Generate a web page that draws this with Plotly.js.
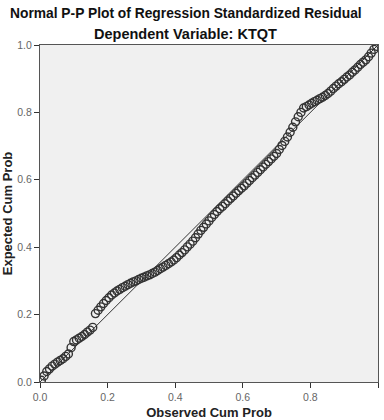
<!DOCTYPE html>
<html>
<head>
<meta charset="utf-8">
<script src="https://cdn.plot.ly/plotly-3.0.1.min.js"></script>
<style>html,body{margin:0;padding:0;background:#fff;}#chart{width:384px;height:420px;}</style>
</head>
<body>
<div id="chart"></div>
<script>
// Observed cumulative probability (x) and expected cumulative probability (y)
var observedCumProb = [0.004,0.012,0.020,0.028,0.036,0.044,0.052,0.060,0.068,0.076,
0.084,0.092,0.100,0.108,0.116,0.124,0.132,0.140,0.148,0.156,
0.164,0.172,0.180,0.188,0.196,0.204,0.212,0.220,0.228,0.236,
0.244,0.252,0.260,0.268,0.276,0.284,0.292,0.300,0.308,0.316,
0.324,0.332,0.340,0.348,0.356,0.364,0.372,0.380,0.388,0.396,
0.404,0.412,0.420,0.428,0.436,0.444,0.452,0.460,0.468,0.476,
0.484,0.492,0.500,0.508,0.516,0.524,0.532,0.540,0.548,0.556,
0.564,0.572,0.580,0.588,0.596,0.604,0.612,0.620,0.628,0.636,
0.644,0.652,0.660,0.668,0.676,0.684,0.692,0.700,0.708,0.716,
0.724,0.732,0.740,0.748,0.756,0.764,0.772,0.780,0.788,0.796,
0.804,0.812,0.820,0.828,0.836,0.844,0.852,0.860,0.868,0.876,
0.884,0.892,0.900,0.908,0.916,0.924,0.932,0.940,0.948,0.956,
0.964,0.972,0.980,0.988,0.996];
var expectedCumProb = [0.005,0.018,0.031,0.039,0.047,0.053,0.059,0.064,0.069,0.076,
0.083,0.102,0.120,0.125,0.130,0.135,0.141,0.148,0.154,0.162,
0.203,0.213,0.223,0.233,0.242,0.250,0.258,0.264,0.270,0.275,
0.280,0.284,0.289,0.293,0.297,0.300,0.304,0.308,0.311,0.315,
0.318,0.322,0.326,0.331,0.336,0.341,0.346,0.351,0.356,0.362,
0.369,0.377,0.384,0.392,0.401,0.409,0.418,0.428,0.439,0.450,
0.459,0.469,0.478,0.488,0.497,0.506,0.514,0.521,0.529,0.537,
0.545,0.552,0.560,0.568,0.575,0.582,0.590,0.598,0.606,0.614,
0.622,0.630,0.638,0.646,0.654,0.662,0.670,0.678,0.690,0.702,
0.714,0.727,0.741,0.756,0.772,0.787,0.800,0.813,0.817,0.822,
0.827,0.832,0.836,0.841,0.845,0.850,0.856,0.863,0.871,0.878,
0.885,0.891,0.898,0.905,0.911,0.919,0.926,0.934,0.942,0.949,
0.956,0.965,0.976,0.987,0.996];
var refLineX = [0, 1];
var refLineY = [0, 1];
var tickValues = [0, 0.2, 0.4, 0.6, 0.8, 1.0];
var tickLabels = ["0.0", "0.2", "0.4", "0.6", "0.8", "1.0"];

var FONT = "Liberation Sans, Arial, sans-serif";

var traces = [
  {
    x: refLineX, y: refLineY, type: "scatter", mode: "lines",
    line: {color: "#333333", width: 1}, hoverinfo: "skip", showlegend: false
  },
  {
    x: observedCumProb, y: expectedCumProb, type: "scatter", mode: "markers",
    marker: {symbol: "circle-open", size: 8, color: "#333333", line: {width: 1.4, color: "#333333"}},
    showlegend: false
  }
];

var axisCommon = {
  range: [0, 1], tickmode: "array", tickvals: tickValues, ticktext: tickLabels,
  showgrid: false, zeroline: false, showline: true, mirror: true,
  linecolor: "#555555", linewidth: 1, ticks: "outside", ticklen: 5,
  tickcolor: "#333333", tickfont: {family: FONT, size: 10.5, color: "#666666"}
};

var layout = {
  width: 384, height: 420,
  margin: {l: 40, r: 6, t: 45, b: 38},
  paper_bgcolor: "#ffffff", plot_bgcolor: "#f0f0f0",
  xaxis: Object.assign({}, axisCommon, {
    title: {text: "Observed Cum Prob", font: {family: FONT, size: 13, color: "#222222", weight: "bold"}, standoff: 9}
  }),
  yaxis: Object.assign({}, axisCommon, {
    title: {text: "Expected Cum Prob", font: {family: FONT, size: 13, color: "#222222", weight: "bold"}, standoff: 6}
  }),
  annotations: [
    {text: "<b>Normal P-P Plot of Regression Standardized Residual</b>", xref: "paper", yref: "paper",
     x: 0.432, y: (382 - 13) / 337, xanchor: "center", yanchor: "middle", showarrow: false,
     font: {family: FONT, size: 13.8, color: "#111111"}},
    {text: "<b>Dependent Variable: KTQT</b>", xref: "paper", yref: "paper",
     x: 0.43, y: (382 - 34) / 337, xanchor: "center", yanchor: "middle", showarrow: false,
     font: {family: FONT, size: 14.5, color: "#111111"}}
  ]
};

Plotly.newPlot("chart", traces, layout, {displayModeBar: false, staticPlot: true});
</script>
</body>
</html>
